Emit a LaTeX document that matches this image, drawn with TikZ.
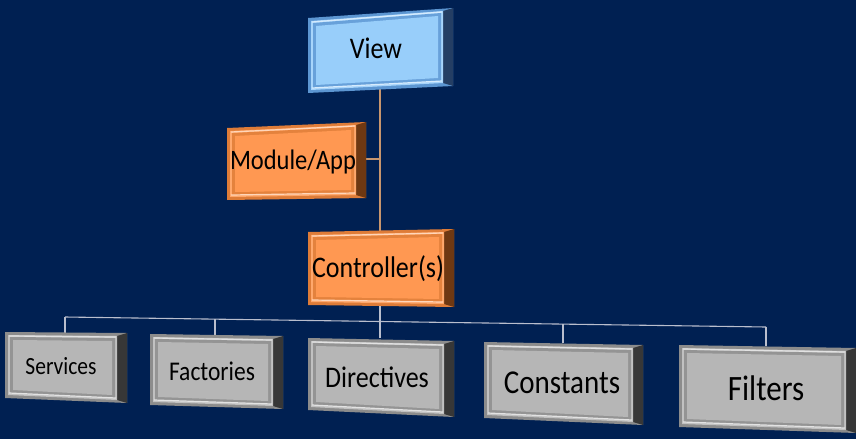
\documentclass[tikz,border=0pt]{standalone}
\usepackage{fontspec}
\setmainfont{Carlito}
\usetikzlibrary{calc}
\definecolor{bg}{RGB}{0,32,82}
\definecolor{blueface}{RGB}{152,206,250}
\definecolor{blueframe}{RGB}{92,150,210}
\definecolor{bluedark}{RGB}{36,62,100}
\definecolor{orface}{RGB}{255,152,82}
\definecolor{orframe}{RGB}{222,124,56}
\definecolor{ordark}{RGB}{110,56,18}
\definecolor{grface}{RGB}{182,182,182}
\definecolor{grframe}{RGB}{140,140,140}
\definecolor{grdark}{RGB}{55,55,55}
\definecolor{tanline}{RGB}{200,150,110}
\definecolor{greyline}{RGB}{185,190,205}
\newcommand{\bevbox}[8]{%
  \coordinate (#1-tl) at #2; \coordinate (#1-tr) at #3;
  \coordinate (#1-br) at #4; \coordinate (#1-bl) at #5;
  \fill[#7] (#1-tl) -- (#1-tr) -- (#1-br) -- (#1-bl) -- cycle;
  \fill[#8] ($(#1-tr)+(-10,3)$) -- (#1-tr) -- (#1-br) -- ($(#1-br)+(-10,-3)$) -- cycle;
  \fill[#6!85!white] ($(#1-tl)+(3,3)$) -- ($(#1-tr)+(-10,3)$) -- ($(#1-br)+(-10,-3)$) -- ($(#1-bl)+(3,-3)$) -- cycle;
  \fill[#7!80!#6] ($(#1-tl)+(5,5)$) -- ($(#1-tr)+(-12,5)$) -- ($(#1-br)+(-12,-5)$) -- ($(#1-bl)+(5,-5)$) -- cycle;
  \fill[#6] ($(#1-tl)+(8,8)$) -- ($(#1-tr)+(-15,8)$) -- ($(#1-br)+(-15,-8)$) -- ($(#1-bl)+(8,-8)$) -- cycle;
  \draw[white!60!#6, line width=1.2] ($(#1-tl)+(4,4)$) -- ($(#1-tr)+(-11,4)$);
  \draw[white!60!#6, line width=1.2] ($(#1-bl)+(4,-5)$) -- ($(#1-br)+(-11,-5)$);
}
\newcommand{\tall}[1]{\scalebox{1}[1.15]{#1}}
\tikzset{
  lbl/.style={inner sep=0pt, text=black},
  upline/.style={draw=tanline, line width=1.1},
  lowline/.style={draw=greyline, line width=1.1},
}
\begin{document}
\begin{tikzpicture}[x=1pt,y=-1pt]
\useasboundingbox (0,0) rectangle (856,439);
\fill[bg] (0,0) rectangle (856,439);
% connectors first
\coordinate (view-b) at (380,88);
\coordinate (ctrl-t) at (380,231);
\coordinate (mod-r) at (365,159);
\coordinate (mid) at (380,159);
\coordinate (ctrl-b) at (380,306);
\coordinate (b1) at (65,317);
\coordinate (b2) at (215,319.1);
\coordinate (b3) at (380,321.5);
\coordinate (b4) at (563,324.1);
\coordinate (b5) at (766,327);
\coordinate (svc-t) at (65,333);
\coordinate (fac-t) at (215,336);
\coordinate (dir-t) at (380,338);
\coordinate (con-t) at (563,343);
\coordinate (fil-t) at (766,346);
\draw[upline] (view-b) -- (ctrl-t);
\draw[upline] (mod-r) -- (mid);
\draw[lowline] (ctrl-b) -- (b3);
\draw[lowline] (b1) -- (b5);
\draw[lowline] (b1) -- (svc-t);
\draw[lowline] (b2) -- (fac-t);
\draw[lowline] (b3) -- (dir-t);
\draw[lowline] (b4) -- (con-t);
\draw[lowline] (b5) -- (fil-t);
% boxes
\bevbox{view}{(308,18)}{(453,8)}{(453,86)}{(308,93)}{blueface}{blueframe}{bluedark}
\bevbox{mod}{(227,128)}{(366,122)}{(366,198)}{(227,200)}{orface}{orframe}{ordark}
\bevbox{ctrl}{(308,232)}{(454,229)}{(454,307)}{(308,305)}{orface}{orframe}{ordark}
\bevbox{svc}{(5,332)}{(127,333)}{(127,403)}{(5,398)}{grface}{grframe}{grdark}
\bevbox{fac}{(150,334)}{(283,336)}{(283,409)}{(150,405)}{grface}{grframe}{grdark}
\bevbox{dir}{(308,338)}{(454,341)}{(454,417)}{(308,410)}{grface}{grframe}{grdark}
\bevbox{con}{(484,342)}{(643,345)}{(643,425)}{(484,418)}{grface}{grframe}{grdark}
\bevbox{fil}{(679,345)}{(856,348)}{(856,433)}{(679,427)}{grface}{grframe}{grdark}
% labels
\node[lbl, font=\fontsize{26}{30}\selectfont] (viewt) at (376,48) {\tall{View}};
\node[lbl, font=\fontsize{24.5}{29}\selectfont] (modt) at (293,162) {\tall{Module/App}};
\node[lbl, font=\fontsize{26}{31}\selectfont] (ctrlt) at (378,269) {\tall{Controller(s)}};
\node[lbl, font=\fontsize{21.5}{26}\selectfont] (svct) at (61,366) {\tall{Services}};
\node[lbl, font=\fontsize{23.5}{28}\selectfont] (fact) at (212,371) {\tall{Factories}};
\node[lbl, font=\fontsize{26}{31}\selectfont] (dirt) at (377,377) {\tall{Directives}};
\node[lbl, font=\fontsize{29}{34}\selectfont] (cont) at (562,383) {\tall{Constants}};
\node[lbl, font=\fontsize{31}{36}\selectfont] (filt) at (766,388) {\tall{Filters}};
\end{tikzpicture}
\end{document}
